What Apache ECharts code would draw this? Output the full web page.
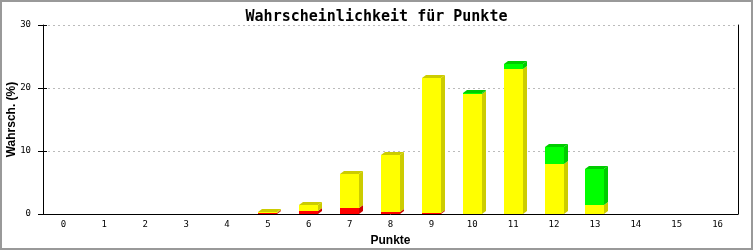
<!DOCTYPE html>
<html>
<head>
<meta charset="utf-8">
<script src="https://cdn.jsdelivr.net/npm/echarts@6/dist/echarts.min.js"></script>
<style>html,body{margin:0;padding:0;background:#fff}#c{width:753px;height:250px}</style>
</head>
<body>
<div id="c"></div>
<script>
const categories = ['0','1','2','3','4','5','6','7','8','9','10','11','12','13','14','15','16'];
const redValues    = [0,0,0,0,0,0.2,0.52,0.95,0.32,0.15,0,0,0,0,0,0,0];
const yellowValues = [0,0,0,0,0,0.1,0.86,5.4,9.05,21.45,19.05,23.0,7.94,1.43,0,0,0];
const greenValues  = [0,0,0,0,0,0,0,0,0,0,0.2,0.8,2.7,5.7,0,0,0];
const yTicks = [0,10,20,30];

const stacks = [
  {name:'rot', values:redValues, front:'#ff0000', shade:'#cc0000'},
  {name:'gelb', values:yellowValues, front:'#ffff00', shade:'#cccc00'},
  {name:'grün', values:greenValues, front:'#00ff00', shade:'#00cc00'}
];

// build stacked segments [cat, base, top, isTop]
const bases = categories.map(() => 0);
const tops = categories.map((c, i) => {
  let t = -1;
  stacks.forEach((s, k) => { if (s.values[i] > 0) t = k; });
  return t;
});
const seriesData = stacks.map((s, k) => {
  const d = [];
  s.values.forEach((v, i) => {
    if (v > 0) {
      d.push([i, bases[i], bases[i] + v, tops[i] === k ? 1 : 0]);
      bases[i] += v;
    }
  });
  return d;
});

const BW = 19, DX = 4, DY = 3;
function makeRender(s) {
  return function (params, api) {
    const c = api.value(0);
    const p0 = api.coord([c, api.value(1)]);
    const p1 = api.coord([c, api.value(2)]);
    const xl = Math.round(p0[0] - BW / 2), xr = xl + BW;
    const yb = Math.round(p0[1]), yt = Math.round(p1[1]);
    const children = [
      {type:'polygon', shape:{points:[[xr,yb],[xr+DX,yb-DY],[xr+DX,yt-DY],[xr,yt]]}, style:{fill:s.shade}},
      {type:'rect', shape:{x:xl, y:yt, width:BW, height:yb-yt}, style:{fill:s.front}}
    ];
    if (api.value(3) === 1) {
      children.push({type:'polygon', shape:{points:[[xl,yt],[xl+DX,yt-DY],[xr+DX,yt-DY],[xr,yt]]}, style:{fill:s.shade}});
    }
    return {type:'group', children};
  };
}

const chart = echarts.init(document.getElementById('c'));
const yBase = {type:'value', min:yTicks[0], max:yTicks[yTicks.length-1], interval:10};
chart.setOption({
  animation:false,
  title:{text:'Wahrscheinlichkeit für Punkte', left:'center', top:5,
    textStyle:{fontFamily:'DejaVu Sans Mono', fontSize:15, fontWeight:'bold', color:'#000'}},
  grid:{left:43, right:15, top:25, bottom:36, containLabel:false, outerBoundsMode:'none'},
  xAxis:{type:'category', data:categories, boundaryGap:true,
    name:'Punkte', nameLocation:'middle', nameGap:21, nameMoveOverlap:false,
    nameTextStyle:{fontFamily:'Liberation Sans', fontWeight:'bold', fontSize:12, color:'#000'},
    axisLine:{lineStyle:{color:'#000', width:1}}, axisTick:{show:false},
    axisLabel:{fontFamily:'DejaVu Sans Mono', fontSize:9, color:'#000', margin:6},
    splitLine:{show:false}},
  yAxis:[
    Object.assign({}, yBase, {position:'left',
      name:'Wahrsch. (%)', nameLocation:'middle', nameGap:25, nameMoveOverlap:false,
      nameTextStyle:{fontFamily:'Liberation Sans', fontWeight:'bold', fontSize:12, color:'#000'},
      axisLine:{show:true, lineStyle:{color:'#000'}},
      axisTick:{show:true, length:5, lineStyle:{color:'#000'}},
      axisLabel:{fontFamily:'DejaVu Sans Mono', fontSize:9, color:'#000', margin:12},
      splitLine:{show:true, lineStyle:{color:'#bbbbbb', type:[2,3]}}}),
    Object.assign({}, yBase, {position:'left',
      axisLine:{show:false}, axisTick:{show:true, inside:true, length:4, lineStyle:{color:'#000'}},
      axisLabel:{show:false}, splitLine:{show:false}}),
    Object.assign({}, yBase, {position:'right',
      axisLine:{show:true, lineStyle:{color:'#000'}}, axisTick:{show:false},
      axisLabel:{show:false}, splitLine:{show:false}})
  ],
  graphic:[{type:'rect', shape:{x:1, y:1, width:751, height:248}, style:{fill:null, stroke:'#999', lineWidth:2}, silent:true}],
  series: stacks.map((s, k) => ({
    type:'custom', name:s.name, xAxisIndex:0, yAxisIndex:0,
    renderItem: makeRender(s),
    encode:{x:0, y:[1,2]},
    data: seriesData[k]
  }))
});
</script>
</body>
</html>
